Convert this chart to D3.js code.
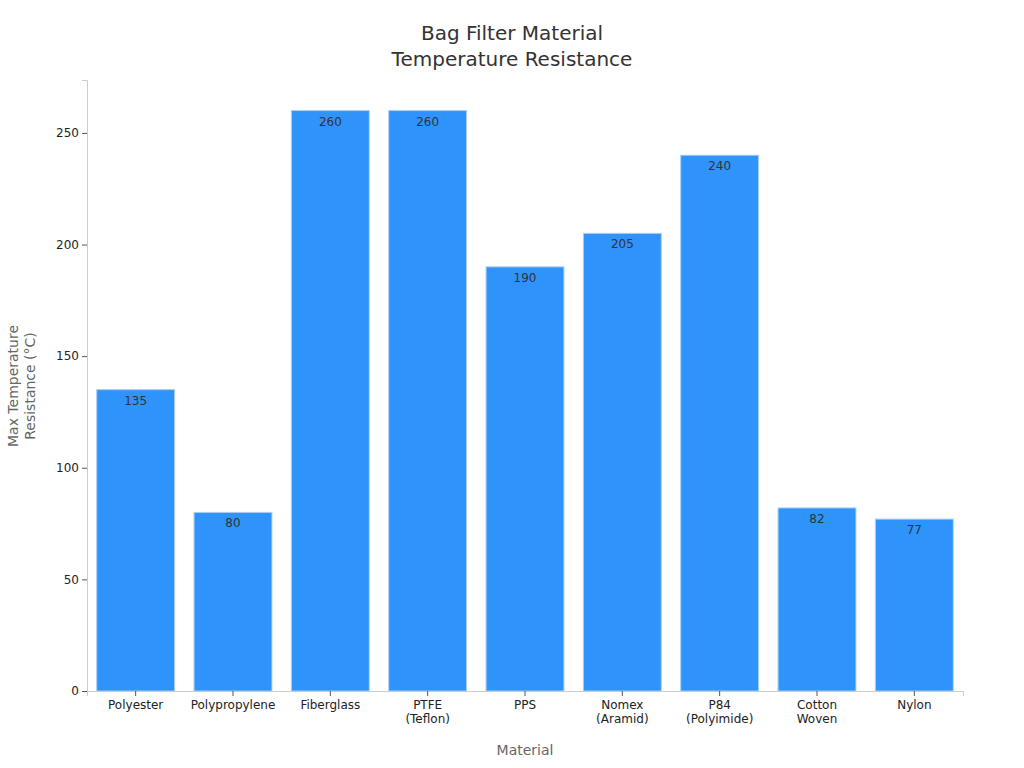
<!DOCTYPE html><html><head><meta charset="utf-8"><script src="https://cdn.jsdelivr.net/npm/d3@7"></script>
<style>body{margin:0;background:#fff}text{font-family:"DejaVu Sans",sans-serif}</style></head><body><svg id="c" width="1024" height="768"></svg>
<script>
const categories=["Polyester","Polypropylene","Fiberglass","PTFE\n(Teflon)","PPS","Nomex\n(Aramid)","P84\n(Polyimide)","Cotton\nWoven","Nylon"];
const values=[135,80,260,260,190,205,240,82,77];
const yTicks=[0,50,100,150,200,250];
const svg=d3.select("#c");
const m={l:87,r:963,t:80,b:691};
const x=d3.scaleBand().domain(categories).range([m.l,m.r]).paddingInner(0.2).paddingOuter(0.1);
const y=d3.scaleLinear().domain([0,273.7]).range([m.b,m.t]);
svg.selectAll("rect").data(values).join("rect").attr("x",(d,i)=>x(categories[i])).attr("width",x.bandwidth())
 .attr("y",d=>y(d)).attr("height",d=>y(0)-y(d)).attr("fill","#2e93fa").attr("stroke","#a9cdf5").attr("stroke-width",1);
svg.selectAll(".lbl").data(values).join("text").attr("x",(d,i)=>x(categories[i])+x.bandwidth()/2).attr("y",d=>y(d)+15)
 .attr("text-anchor","middle").attr("font-size",12).attr("fill","#333").text(d=>d);
const ya=svg.append("g").attr("transform",`translate(${m.l},0)`).call(d3.axisLeft(y).tickValues(yTicks).tickSize(5));
const xa=svg.append("g").attr("transform",`translate(0,${m.b})`).call(d3.axisBottom(x).tickSize(5));
[ya,xa].forEach(a=>{a.select(".domain").attr("stroke","#ccc");a.selectAll(".tick line").attr("stroke","#555");a.selectAll("text").attr("font-size",12).attr("fill","#222").attr("font-family","DejaVu Sans")});
xa.selectAll(".tick text").each(function(d){const t=d3.select(this);const parts=d.split("\n");t.text(null);
 parts.forEach((p,i)=>t.append("tspan").attr("x",0).attr("dy",i?"1.2em":"0.71em").text(p));}).attr("y",9);
svg.append("text").attr("x",525).attr("y",755).attr("text-anchor","middle").attr("font-size",14).attr("fill","#666").text("Material");
const yl=svg.append("text").attr("transform","translate(18,386) rotate(-90)").attr("text-anchor","middle").attr("font-size",14).attr("fill","#666");
yl.append("tspan").attr("x",0).attr("dy",0).text("Max Temperature");yl.append("tspan").attr("x",0).attr("dy","1.2em").text("Resistance (°C)");
const ti=svg.append("text").attr("text-anchor","middle").attr("font-size",20).attr("fill","#333");
ti.append("tspan").attr("x",512).attr("y",40).text("Bag Filter Material");ti.append("tspan").attr("x",512).attr("y",66).text("Temperature Resistance");
</script></body></html>
